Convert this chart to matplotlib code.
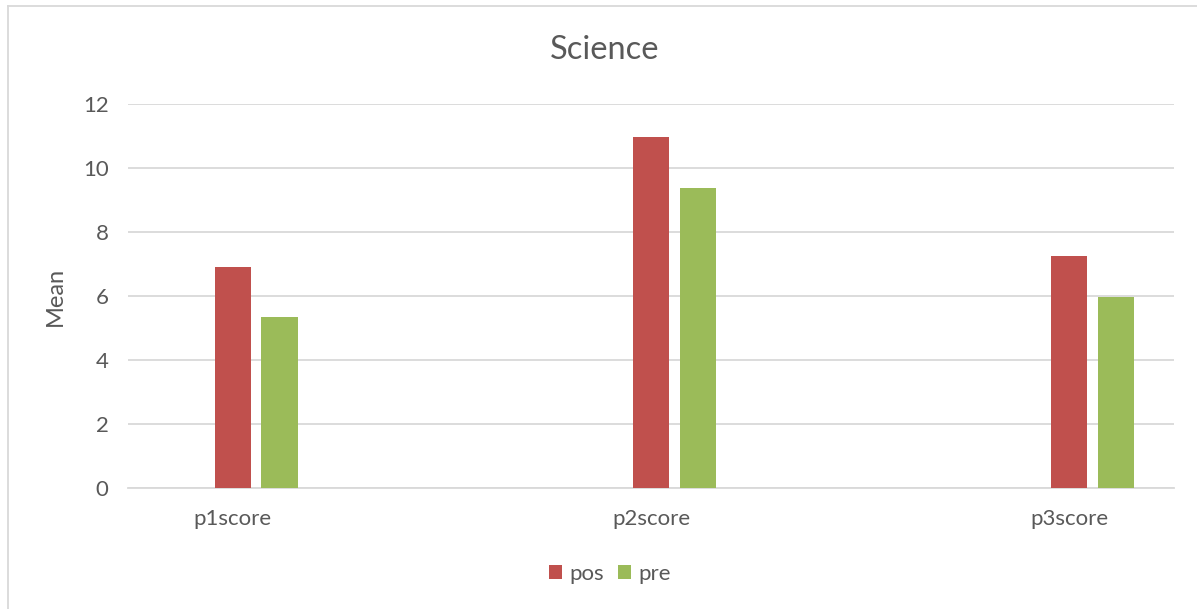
import matplotlib
matplotlib.use("Agg")
import matplotlib.pyplot as plt
import numpy as np
from matplotlib.patches import Patch
from matplotlib.lines import Line2D

categories = ["p1score", "p2score", "p3score"]
series_names = ["pos", "pre"]
pos_values = [6.92, 10.97, 7.25]
pre_values = [5.33, 9.37, 5.98]
y_ticks = [0, 2, 4, 6, 8, 10, 12]

colors = {"pos": "#C0504D", "pre": "#9BBB59"}
text_color = "#595959"
grid_color = "#D9D9D9"

plt.rcParams["font.family"] = ["Lato", "DejaVu Sans"]

W, H = 1197, 609
fig = plt.figure(figsize=(W / 100, H / 100), dpi=100)
ax = fig.add_axes([128 / W, 1 - 488 / H, (1174 - 128) / W, (488 - 104) / H])

x = np.arange(len(categories))
bar_w = 0.0865
offset = 0.112
ax.bar(x, pos_values, width=bar_w, color=colors["pos"], zorder=3)
ax.bar(x + offset, pre_values, width=bar_w, color=colors["pre"], zorder=3)

ax.set_xlim(-0.25, 2.25)
ax.set_ylim(0, 12)
ax.set_yticks(y_ticks)
ax.set_yticklabels([str(v) for v in y_ticks])
ax.set_xticks(x)
ax.set_xticklabels(categories)

ax.yaxis.grid(True, color=grid_color, linewidth=1.3, zorder=0)
ax.set_axisbelow(True)
for s in ["top", "right", "left"]:
    ax.spines[s].set_visible(False)
ax.spines["bottom"].set_color(grid_color)
ax.spines["bottom"].set_linewidth(1.3)
ax.tick_params(axis="both", length=0, colors=text_color, labelsize=16)
ax.tick_params(axis="y", pad=14)
ax.tick_params(axis="x", pad=15)

ax.set_ylabel("Mean", color=text_color, fontsize=17, labelpad=12)

fig.text(605 / W, 1 - 50 / H, "Science", ha="center", va="center",
         color=text_color, fontsize=23.5)

handles = [Patch(facecolor=colors[n], edgecolor="none") for n in series_names]
leg = fig.legend(handles, series_names, loc="center",
                 bbox_to_anchor=(610 / W, 1 - 574 / H), ncol=2, frameon=False,
                 fontsize=16, handlelength=0.6, handleheight=0.6,
                 handletextpad=0.35, columnspacing=0.6,
                 borderpad=0, borderaxespad=0)
for t in leg.get_texts():
    t.set_color(text_color)

# chart frame
fig.add_artist(Line2D([7.5 / W, 7.5 / W], [0, 1 - 5.5 / H], transform=fig.transFigure,
                      color=grid_color, linewidth=1.3))
fig.add_artist(Line2D([7.5 / W, 1], [1 - 5.5 / H, 1 - 5.5 / H], transform=fig.transFigure,
                      color=grid_color, linewidth=1.3))

fig.savefig("out.png", dpi=100, facecolor="white")
